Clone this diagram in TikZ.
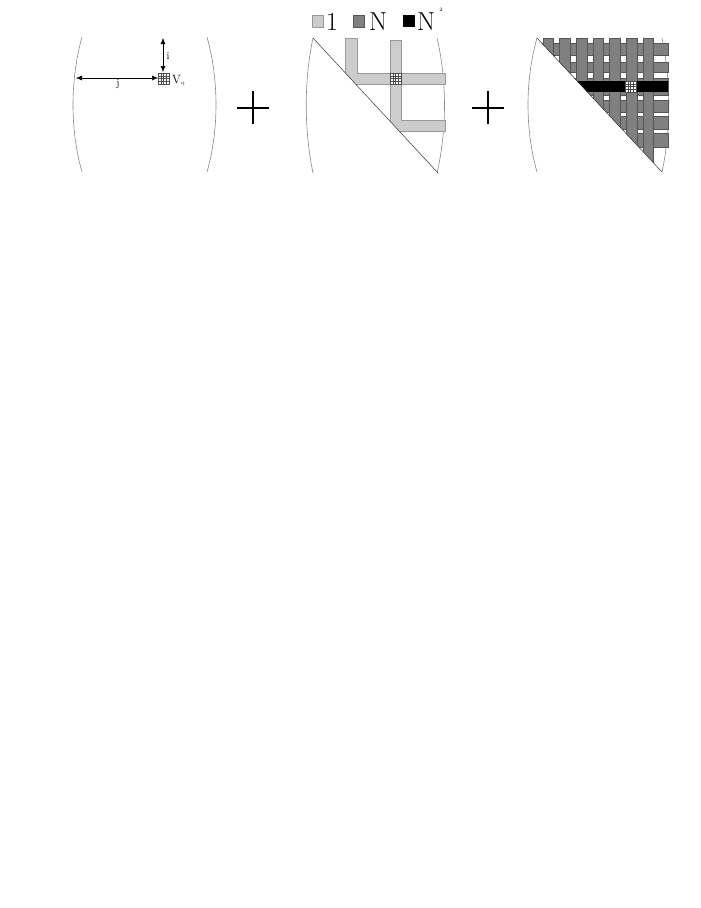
\documentclass[tikz,border=0pt]{standalone}
\usetikzlibrary{arrows.meta}
\definecolor{lg}{HTML}{CCCCCC}
\definecolor{lgo}{HTML}{999999}
\definecolor{dg}{HTML}{808080}
\definecolor{dgo}{HTML}{555555}
\definecolor{arc}{HTML}{888888}
\tikzset{
  paren/.style={draw=arc, line width=0.6pt},
  diag/.style={draw=black!80, line width=0.5pt},
  lbar/.style={fill=lg, draw=lgo, line width=0.5pt},
  dbar/.style={fill=dg, draw=dgo, line width=0.5pt},
  plusline/.style={line width=2.9pt},
  dimarrow/.style={line width=0.5pt, {Latex[length=6pt,width=5pt]}-{Latex[length=6pt,width=5pt]}},
  gridcell/.pic={
    \fill[white] (0,0) rectangle (11,11);
    \draw[black!70, line width=0.4pt] (0,0) rectangle (11,11);
    \foreach \k in {2.75,5.5,8.25} {
      \draw[black!70, line width=0.35pt] (\k,0) -- (\k,11);
      \draw[black!70, line width=0.35pt] (0,\k) -- (11,\k);
    }
  },
  biglab/.style={inner sep=0pt, font=\fontsize{26}{28}\selectfont, anchor=base west},
  smalllab/.style={inner sep=0pt, font=\fontsize{10.5}{12}\selectfont},
  sq/.style={line width=0.5pt}
}
\begin{document}
\begin{tikzpicture}[x=1pt,y=-1pt]
\useasboundingbox (0,0) rectangle (701,908);

% ---------- legend ----------
\fill[lg] (312,15) rectangle (323,27);
\draw[lgo,sq] (312,15) rectangle (323,27);
\node[biglab] (one) at (326,30) {1};
\fill[dg] (353,15) rectangle (364,27);
\draw[dgo,sq] (353,15) rectangle (364,27);
\node[biglab] (nn) at (369,30) {N};
\fill[black] (403,15) rectangle (415,27);
\node[biglab] (nsq) at (417,30) {N};
\node[inner sep=0pt, font=\fontsize{5}{5}\selectfont] (two) at (441,10) {2};

% ---------- panel 1 ----------
\draw[paren] (82,37) .. controls (70,80) and (70,130) .. (82,172);
\draw[paren] (207,37) .. controls (219,80) and (219,130) .. (207,172);
\pic at (158,73) {gridcell};
\coordinate (jl) at (76,78);
\coordinate (jr) at (158,78);
\coordinate (it) at (163,38);
\coordinate (ib) at (163,72);
\draw[dimarrow] (jl) -- (jr);
\draw[dimarrow] (it) -- (ib);
\node[smalllab] (jlab) at (118,84) {j};
\node[smalllab] (ilab) at (168,56) {i};
\node[inner sep=0pt, anchor=base west, font=\fontsize{12}{13}\selectfont] (vij) at (172,83) {V\fontsize{4.5}{5}\selectfont\raisebox{-1.5pt}{ij}};

% ---------- plus signs ----------
\draw[plusline] (237,108) -- (269,108);
\draw[plusline] (253,91) -- (253,124);
\draw[plusline] (472,108) -- (504,108);
\draw[plusline] (488,91) -- (488,124);

% ---------- panel 2 ----------
\draw[paren] (313,38) .. controls (304,80) and (304,130) .. (313,173);
\draw[paren] (437,38) .. controls (447,80) and (447,130) .. (437,173);
\begin{scope}
  \clip (313,38) -- (470,38) -- (470,173) -- (438,173) -- cycle;
  \draw[lbar] (390,40) -- (401,40) -- (401,120) -- (445,120) -- (445,131) -- (390,131) -- cycle;
  \draw[lbar] (345,38) -- (357,38) -- (357,73) -- (445,73) -- (445,84) -- (345,84) -- cycle;
\end{scope}
\pic at (390,73) {gridcell};
\draw[diag] (313,38) -- (438,173);

% ---------- panel 3 ----------
\draw[paren] (537,38) .. controls (525,80) and (525,130) .. (537,172);
\draw[paren] (662,38) .. controls (671,80) and (671,130) .. (662,172);
\begin{scope}
  \clip (537,38) -- (700,38) -- (700,172) -- (662,172) -- cycle;
  \foreach \a/\b in {43/55, 62/72, 78/95, 100/112, 116/129, 133/147} {
    \fill[dg] (530,\a) rectangle (668,\b);
    \draw[dgo, line width=0.4pt] (530,\a) -- (668,\a) -- (668,\b) -- (530,\b);
  }
  \foreach \x in {543,559.7,576.3,593,609.7,626.3,643} {
    \draw[dbar] (\x,38) rectangle (\x+10.5,175);
  }
  \fill[black] (560,81) rectangle (668,92);
\end{scope}
\pic at (625,81) {gridcell};
\draw[diag] (537,38) -- (662,172);
\end{tikzpicture}
\end{document}
